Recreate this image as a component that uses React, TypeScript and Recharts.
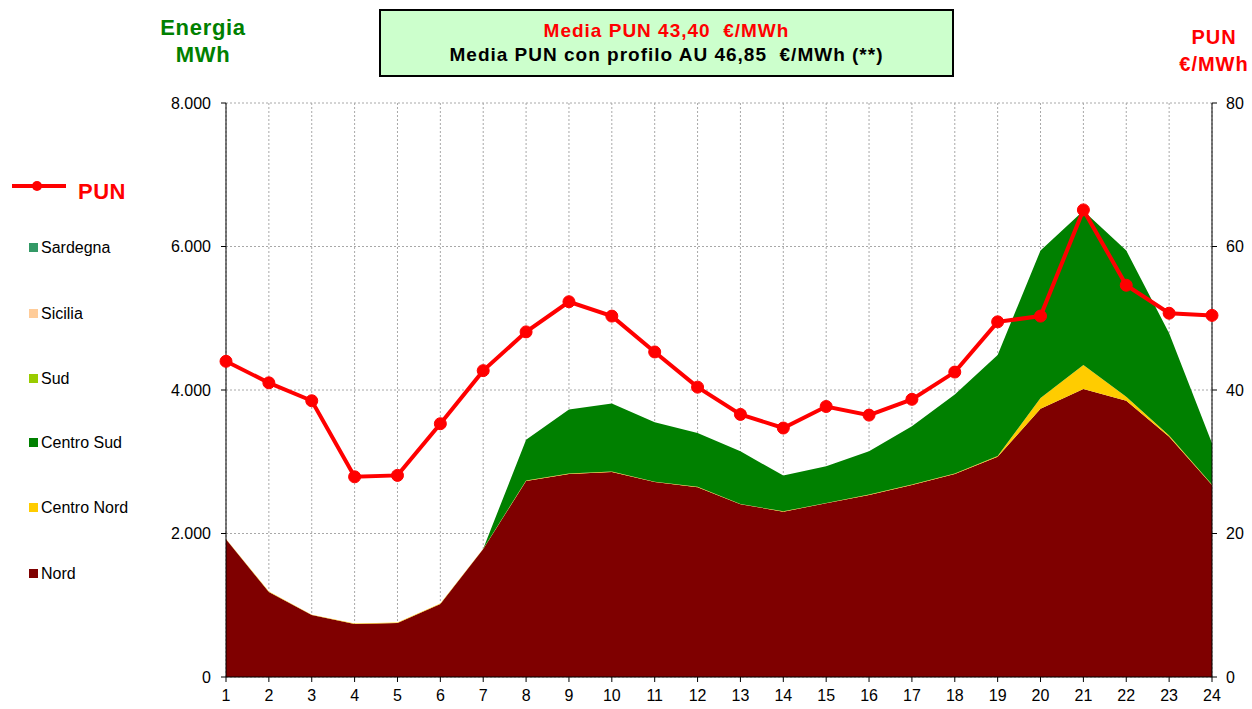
import React from 'react';
import { ComposedChart, Area, Line, XAxis, YAxis, CartesianGrid } from 'recharts';

// ore del giorno
const hours = [1, 2, 3, 4, 5, 6, 7, 8, 9, 10, 11, 12, 13, 14, 15, 16, 17, 18, 19, 20, 21, 22, 23, 24];

// energia per zona (MWh)
const nord = [1920, 1185, 864, 740, 753, 1018, 1784, 2732, 2830, 2858, 2718, 2645, 2407, 2304, 2421, 2537, 2677, 2830, 3070, 3737, 4015, 3850, 3350, 2677];
const centroNord = [5, 5, 5, 5, 5, 5, 5, 5, 5, 5, 5, 5, 5, 5, 5, 5, 5, 5, 10, 150, 335, 55, 15, 5];
const centroSud = [0, 0, 0, 0, 0, 0, 0, 568, 892, 948, 827, 752, 734, 498, 511, 604, 812, 1101, 1409, 2058, 2150, 2039, 1426, 576];
const sud = [0, 0, 0, 0, 0, 0, 0, 0, 0, 0, 0, 0, 0, 0, 0, 0, 0, 0, 0, 0, 0, 0, 0, 0];
const sicilia = [0, 0, 0, 0, 0, 0, 0, 0, 0, 0, 0, 0, 0, 0, 0, 0, 0, 0, 0, 0, 0, 0, 0, 0];
const sardegna = [0, 0, 0, 0, 0, 0, 0, 0, 0, 0, 0, 0, 0, 0, 0, 0, 0, 0, 0, 0, 0, 0, 0, 0];

// prezzo unico nazionale (€/MWh)
const pun = [44.0, 41.0, 38.5, 27.9, 28.1, 35.3, 42.7, 48.1, 52.3, 50.3, 45.3, 40.4, 36.6, 34.7, 37.7, 36.5, 38.7, 42.5, 49.5, 50.3, 65.1, 54.6, 50.7, 50.4];

const energyTicks = [0, 2000, 4000, 6000, 8000];
const priceTicks = [0, 20, 40, 60, 80];

const zones = [
  { key: 'nord', name: 'Nord', color: '#7f0000' },
  { key: 'centroNord', name: 'Centro Nord', color: '#ffcc00' },
  { key: 'centroSud', name: 'Centro Sud', color: '#008000' },
  { key: 'sud', name: 'Sud', color: '#99cc00' },
  { key: 'sicilia', name: 'Sicilia', color: '#ffcc99' },
  { key: 'sardegna', name: 'Sardegna', color: '#339966' },
];

const data = hours.map((h, i) => ({
  hour: h,
  nord: nord[i],
  centroNord: centroNord[i],
  centroSud: centroSud[i],
  sud: sud[i],
  sicilia: sicilia[i],
  sardegna: sardegna[i],
  pun: pun[i],
}));

// 8000 -> "8.000"
const fmtThousands = (v: number) => String(v).replace(/\B(?=(\d{3})+(?!\d))/g, '.');

const FONT = '"Liberation Sans", Arial, sans-serif';
const tickStyle = { fill: '#000', fontSize: 16, fontFamily: FONT };

// posizioni verticali della legenda (dall'alto: Sardegna ... Nord)
const legendY = [247, 313, 378, 442, 507, 573];

const App: React.FC = () => {
  const legendZones = [...zones].reverse();
  return (
    <div style={{ position: 'absolute', left: 0, top: 0, width: 1252, height: 709, background: '#fff', fontFamily: FONT }}>
      <ComposedChart width={1252} height={709} data={data} margin={{ top: 103, right: 0, bottom: 2, left: 0 }}>
        <CartesianGrid stroke="#a8a8a8" strokeDasharray="2 2" vertical horizontal yAxisId="left" />
        <XAxis
          dataKey="hour"
          type="number"
          domain={[1, 24]}
          ticks={hours}
          interval={0}
          height={30}
          tick={tickStyle}
          tickSize={5}
          tickMargin={8}
          axisLine={{ stroke: '#000' }}
          tickLine={{ stroke: '#000' }}
        />
        <YAxis
          yAxisId="left"
          width={226}
          domain={[0, 8000]}
          ticks={energyTicks}
          tickFormatter={fmtThousands}
          tick={tickStyle}
          tickSize={5}
          tickMargin={10}
          axisLine={{ stroke: '#000' }}
          tickLine={{ stroke: '#000' }}
        />
        <YAxis
          yAxisId="right"
          orientation="right"
          width={40}
          domain={[0, 80]}
          ticks={priceTicks}
          tick={tickStyle}
          tickSize={5}
          tickMargin={9}
          axisLine={{ stroke: '#000' }}
          tickLine={{ stroke: '#000' }}
        />
        {zones.map((z) => (
          <Area
            key={z.key}
            yAxisId="left"
            type="linear"
            dataKey={z.key}
            name={z.name}
            stackId="energia"
            fill={z.color}
            fillOpacity={1}
            stroke="none"
            isAnimationActive={false}
          />
        ))}
        <Line
          yAxisId="right"
          type="linear"
          dataKey="pun"
          name="PUN"
          stroke="#ff0000"
          strokeWidth={4}
          dot={{ r: 6, fill: '#ff0000', stroke: '#ff0000', strokeWidth: 1 }}
          isAnimationActive={false}
        />
      </ComposedChart>

      {/* titoli assi */}
      <div style={{ position: 'absolute', left: 143, top: 14, width: 120, textAlign: 'center', color: '#008000', fontWeight: 'bold', fontSize: 22, letterSpacing: 0.7, lineHeight: '27px' }}>
        Energia<br />MWh
      </div>
      <div style={{ position: 'absolute', left: 1154, top: 24, width: 120, textAlign: 'center', color: '#ff0000', fontWeight: 'bold', fontSize: 20, letterSpacing: 1, lineHeight: '27px' }}>
        PUN<br />€/MWh
      </div>

      {/* riquadro medie */}
      <div style={{ position: 'absolute', left: 379, top: 9, width: 571, height: 56, background: '#ccffcc', border: '2px solid #000', textAlign: 'center', fontWeight: 'bold', fontSize: 19, letterSpacing: 1, lineHeight: '24px', paddingTop: 8, boxSizing: 'content-box' }}>
        <div style={{ color: '#ff0000' }}>Media PUN 43,40&nbsp; €/MWh</div>
        <div style={{ color: '#000' }}>Media PUN con profilo AU 46,85&nbsp; €/MWh (**)</div>
      </div>

      {/* legenda */}
      <svg style={{ position: 'absolute', left: 0, top: 0 }} width={220} height={709}>
        <line x1={12} y1={186} x2={66} y2={186} stroke="#ff0000" strokeWidth={4} />
        <circle cx={37} cy={186} r={5} fill="#ff0000" />
        <text x={78} y={199} fill="#ff0000" fontWeight="bold" fontSize={22} letterSpacing={0.5} fontFamily={FONT}>PUN</text>
        {legendZones.map((z, i) => (
          <g key={z.key}>
            <rect x={29} y={legendY[i] - 4} width={9} height={9} fill={z.color} />
            <text x={41} y={legendY[i] + 6} fill="#000" fontSize={16} fontFamily={FONT}>{z.name}</text>
          </g>
        ))}
      </svg>
    </div>
  );
};

export default App;
